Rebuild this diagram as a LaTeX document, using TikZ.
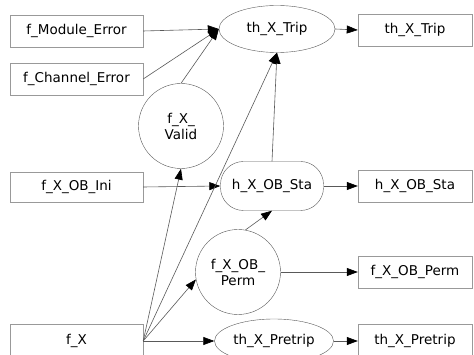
\documentclass[tikz,border=0pt]{standalone}
\usepackage{fontspec}
\setmainfont{DejaVu Sans}
\usetikzlibrary{arrows.meta}
\usetikzlibrary{shapes.geometric}
\definecolor{boxline}{gray}{0.6}
\definecolor{wire}{gray}{0.35}
\def\bw{133pt}
\def\ow{114pt}
\tikzset{
    inbox/.style = {
        draw=boxline, rectangle, minimum width=\bw, minimum height=32pt, inner sep=0pt
    },
    outbox/.style = {
        draw=boxline, rectangle, minimum width=\ow, minimum height=32pt, inner sep=0pt
    },
    evell/.style = {
        draw=wire, ellipse, minimum width=116pt, minimum height=47pt, inner sep=0pt
    },
    fcirc/.style = {
        draw=wire, circle, minimum size=85pt, inner sep=0pt, align=center
    },
    hround/.style = {
        draw=wire, rectangle, rounded corners=23pt, minimum width=103pt, minimum height=49pt, inner sep=0pt
    },
}

\begin{document}
\begin{tikzpicture}[x=1pt, y=-1pt,
        every node/.style={font=\fontsize{13.5}{16}\selectfont}]
        \useasboundingbox (0,0) rectangle (474,355);

        % Place the input blocks
        \node [inbox] (modErr) at (76.5, 31) {f\_Module\_Error};
        \node [inbox] (chErr) at (76.5, 79) {f\_Channel\_Error};
        \node [inbox, minimum height=30pt] (obIni) at (76.5, 187) {f\_X\_OB\_Ini};
        \node [inbox, minimum height=34pt] (fX) at (76.5, 341) {f\_X};

        % Place the logic
        \node [evell] (tripEll) at (277, 29) {th\_X\_Trip};
        \node [fcirc] (valid) at (181, 126) {f\_X\_\\Valid};
        \node [hround] (staRnd) at (272, 186) {h\_X\_OB\_Sta};
        \node [fcirc] (perm) at (238, 272) {f\_X\_OB\_\\Perm};
        \node [evell, minimum width=119pt, minimum height=44pt] (pretripEll) at (274, 341) {th\_X\_Pretrip};

        % Place the output blocks
        \node [outbox] (tripBox) at (415, 30) {th\_X\_Trip};
        \node [outbox] (staBox) at (415, 186) {h\_X\_OB\_Sta};
        \node [outbox] (permBox) at (415, 272) {f\_X\_OB\_Perm};
        \node [outbox, minimum height=34pt] (pretripBox) at (415, 341) {th\_X\_Pretrip};

        % Draw connections
        \begin{scope}[draw=wire, line width=0.6pt, >={Triangle[length=11pt, width=8pt, color=black]}]
            \draw[->] (modErr.east) -- (tripEll.west);
            \draw[->] (chErr.east) -- (tripEll.west);
            \draw[->] (valid.north) -- (tripEll.west);
            \draw[->] (obIni.east) -- (staRnd.west);
            \draw[->] (fX.east) -- (valid.south);
            \draw[->] (fX.east) -- (tripEll.south);
            \draw[->] (fX.east) -- (perm.190);
            \draw[->] (fX.east) -- (pretripEll.west);
            \draw[->] (staRnd.north) -- (tripEll.south);
            \draw[->] (perm.80) -- (staRnd.south);
            \draw[->] (tripEll.east) -- (tripBox.west);
            \draw[->] (staRnd.east) -- (staBox.west);
            \draw[->] (perm.east) -- (permBox.west);
            \draw[->] (pretripEll.east) -- (pretripBox.west);
        \end{scope}
    \end{tikzpicture}
\end{document}
